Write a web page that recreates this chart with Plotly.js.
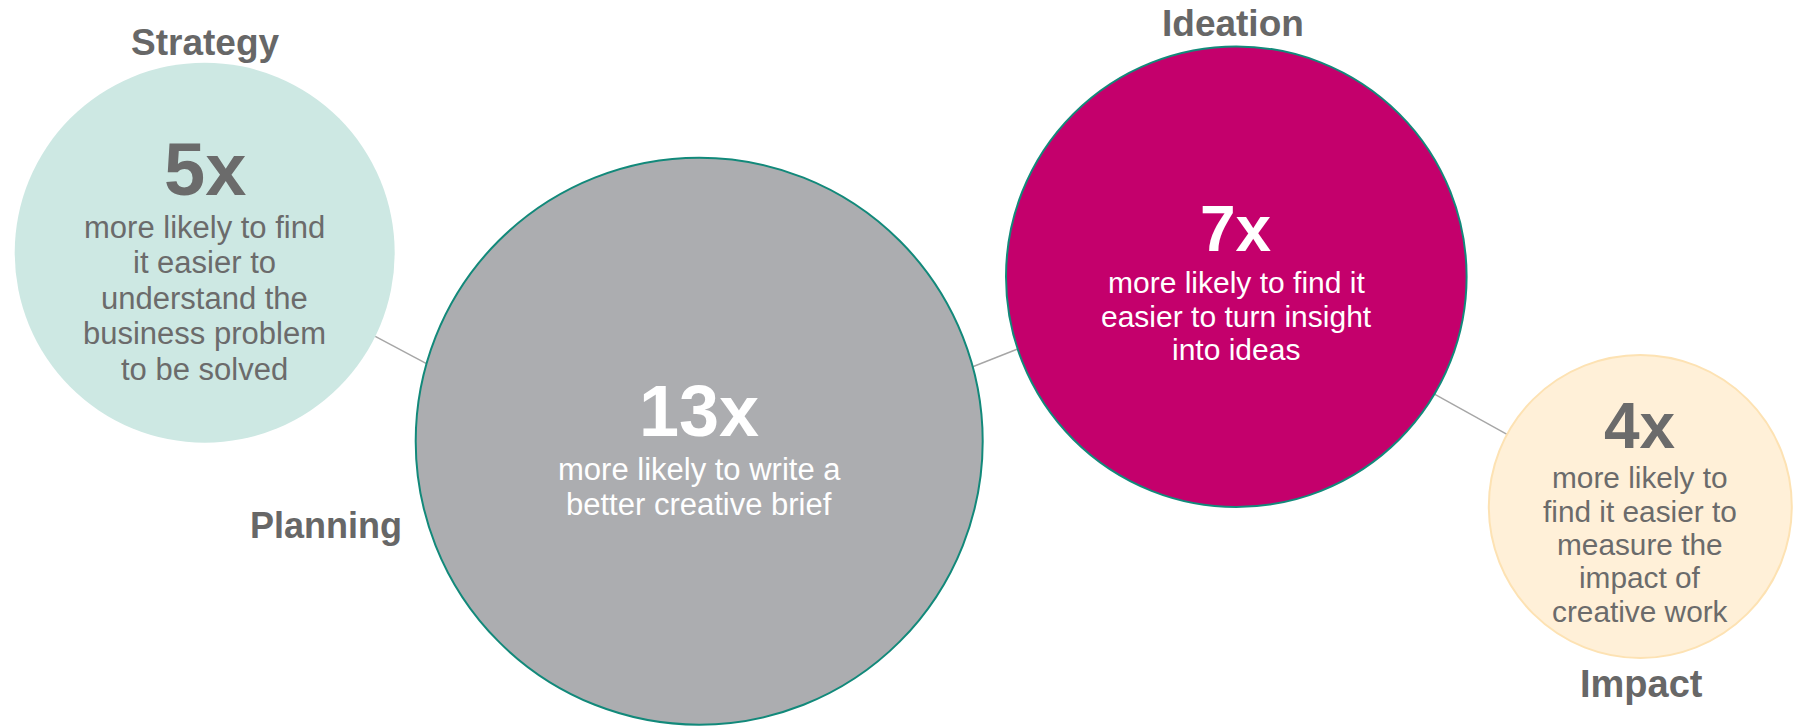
<!DOCTYPE html>
<html>
<head>
<meta charset="utf-8">
<script src="https://cdn.plot.ly/plotly-3.0.1.min.js"></script>
<style>
  html, body { margin: 0; padding: 0; background: #ffffff; }
  #chart { width: 1801px; height: 727px; }
</style>
</head>
<body>
<div id="chart"></div>
<script>
// ---------- DATA ----------
const stages = ['Strategy', 'Planning', 'Ideation', 'Impact'];
const multipliers = [5, 13, 7, 4];
const descriptions = [
  ['more likely to find', 'it easier to', 'understand the', 'business problem', 'to be solved'],
  ['more likely to write a', 'better creative brief'],
  ['more likely to find it', 'easier to turn insight', 'into ideas'],
  ['more likely to', 'find it easier to', 'measure the', 'impact of', 'creative work']
];

// ---------- LAYOUT / STYLE (positions in pixel space of the 1801x727 canvas) ----------
const W = 1801, H = 727;
const FONT = 'Liberation Sans, Arial, sans-serif';
const geom = [
  { cx: 204.7,  cy: 252.7, r: 190,   fill: '#cde8e3', line: '#cde8e3', lw: 0,
    txt: '#6b6b6b', bigSize: 74, bigBase: 195,  bodySize: 31, bodyBase: 238.3, gap: 35.4,
    lab: { x: 205,  base: 55, size: 37 } },
  { cx: 699.2,  cy: 441.2, r: 283.5, fill: '#acadb0', line: '#12897a', lw: 2,
    txt: '#ffffff', bigSize: 72, bigBase: 436,  bodySize: 31, bodyBase: 480.7, gap: 34.3,
    lab: { x: 326,  base: 538, size: 36 } },
  { cx: 1236.3, cy: 276.7, r: 230.3, fill: '#c4006c', line: '#12897a', lw: 2,
    txt: '#ffffff', bigSize: 64, bigBase: 251.7, bodySize: 30, bodyBase: 293.3, gap: 33.4,
    lab: { x: 1233, base: 36, size: 37 } },
  { cx: 1640.3, cy: 506.5, r: 151.5, fill: '#fff0d8', line: '#fde2b3', lw: 2,
    txt: '#6b6b6b', bigSize: 64, bigBase: 448,  bodySize: 29.8, bodyBase: 488.3, gap: 33.3,
    lab: { x: 1641, base: 697, size: 38 } }
];
// connectors: leave circle i at angle a0, enter circle i+1 at angle a1 (degrees, screen coords)
const connectorAngles = [[26.15, 195.86], [-15.23, 161.7], [30.64, 208.4]];
const LABEL_COLOR = '#676767';

// ---------- BUILD ----------
const rad = d => d * Math.PI / 180;
const cx = [], cy = [];
for (let i = 0; i < connectorAngles.length; i++) {
  const a = geom[i], b = geom[i + 1];
  const [a0, a1] = connectorAngles[i];
  cx.push(a.cx + a.r * Math.cos(rad(a0)), b.cx + b.r * Math.cos(rad(a1)), null);
  cy.push(a.cy + a.r * Math.sin(rad(a0)), b.cy + b.r * Math.sin(rad(a1)), null);
}

const traces = [{
  type: 'scatter', mode: 'lines', x: cx, y: cy,
  line: { color: '#a6a6a6', width: 1.4 }, hoverinfo: 'skip', showlegend: false
}];

stages.forEach((s, i) => {
  const g = geom[i];
  traces.push({
    type: 'scatter', mode: 'markers', name: s,
    x: [g.cx], y: [g.cy],
    marker: { size: 2 * g.r, color: g.fill, opacity: 1,
              line: { color: g.line, width: g.lw } },
    hoverinfo: 'skip', showlegend: false
  });
});

const annotations = [];
const MID = 0.35; // baseline -> middle offset in em
stages.forEach((s, i) => {
  const g = geom[i];
  annotations.push({
    x: g.lab.x, y: g.lab.base - MID * g.lab.size, xref: 'x', yref: 'y',
    text: '<b>' + s + '</b>', showarrow: false, xanchor: 'center', yanchor: 'middle',
    font: { family: FONT, size: g.lab.size, color: LABEL_COLOR }
  });
  annotations.push({
    x: g.cx, y: g.bigBase - MID * g.bigSize, xref: 'x', yref: 'y',
    text: '<b>' + multipliers[i] + 'x</b>', showarrow: false, xanchor: 'center', yanchor: 'middle',
    font: { family: FONT, size: g.bigSize, color: g.txt }
  });
  descriptions[i].forEach((line, k) => {
    annotations.push({
      x: g.cx, y: g.bodyBase + k * g.gap - MID * g.bodySize, xref: 'x', yref: 'y',
      text: line, showarrow: false, xanchor: 'center', yanchor: 'middle',
      font: { family: FONT, size: g.bodySize, color: g.txt }
    });
  });
});

const layout = {
  width: W, height: H,
  margin: { l: 0, r: 0, t: 0, b: 0, pad: 0 },
  paper_bgcolor: '#ffffff', plot_bgcolor: '#ffffff',
  xaxis: { range: [0, W], visible: false, fixedrange: true },
  yaxis: { range: [H, 0], visible: false, fixedrange: true },
  showlegend: false,
  annotations: annotations,
  hovermode: false
};

Plotly.newPlot('chart', traces, layout, { displayModeBar: false, staticPlot: true });
</script>
</body>
</html>
